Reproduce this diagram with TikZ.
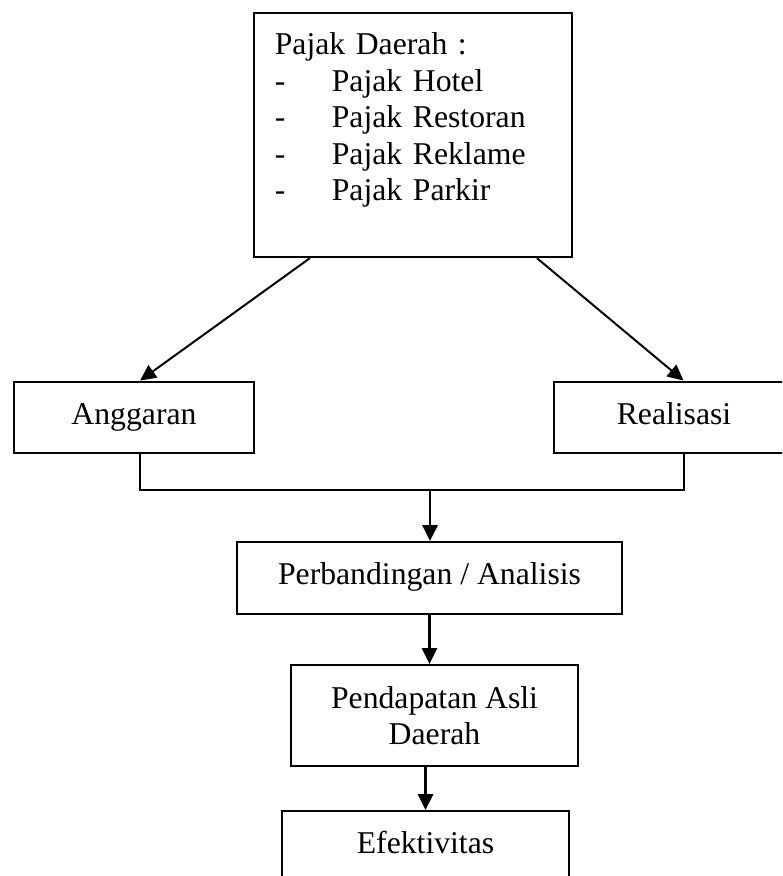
\documentclass[tikz,border=0pt]{standalone}
\usepackage{fontspec}
\setmainfont{Liberation Serif}
\usetikzlibrary{positioning,arrows.meta,calc}

\begin{document}
\begin{tikzpicture}[x=0.3785pt,y=-0.3785pt,line width=0.75pt,>={Triangle[length=6pt,width=5.7pt]},
  font=\fontsize{12}{13.8}\selectfont,
  box/.style={draw,rectangle,inner sep=0pt,align=center,minimum height=27.2pt},
  onebox/.style={box,text height=8pt,text depth=3pt},
  link/.style={line width=0.95pt}]
\clip (0,0) rectangle (782,876);
\node[box,anchor=north,align=left,inner xsep=7.9pt,text width=104.6pt,minimum height=92.4pt] (pajak) at (413,12)
  {Pajak Daerah :\\
   \makebox[21.6pt][l]{-}Pajak Hotel\\
   \makebox[21.6pt][l]{-}Pajak Restoran\\
   \makebox[21.6pt][l]{-}Pajak Reklame\\
   \makebox[21.6pt][l]{-}Pajak Parkir\\
   \mbox{}};
\node[onebox,minimum width=90.8pt] (ang) at (134,417.5) {Anggaran};
\node[onebox,minimum width=90.8pt] (real) at (674,417.5) {Realisasi};
\coordinate (join) at (430,490);
\node[onebox,minimum width=145.7pt] (perb) at (429.5,578) {Perbandingan / Analisis};
\node[box,minimum width=108.6pt,minimum height=38.2pt] (pad) at (434.5,715.5) {Pendapatan Asli\\Daerah};
\node[onebox,minimum width=108.6pt] (efek) at (425.5,847) {Efektivitas};
\draw[->] ([xshift=-39pt]pajak.south) -- ([xshift=2.3pt]ang.north);
\draw[->] ([xshift=46.9pt]pajak.south) -- ([xshift=3.6pt]real.north);
\draw ([xshift=2.1pt]ang.south) |- (join) -| ([xshift=3.8pt]real.south);
\draw[->,link] (join) -- (join |- perb.north);
\draw[->,link] (perb.south) -- (perb.south |- pad.north);
\draw[->,link] (efek.north |- pad.south) -- (efek.north);
\end{tikzpicture}
\end{document}
